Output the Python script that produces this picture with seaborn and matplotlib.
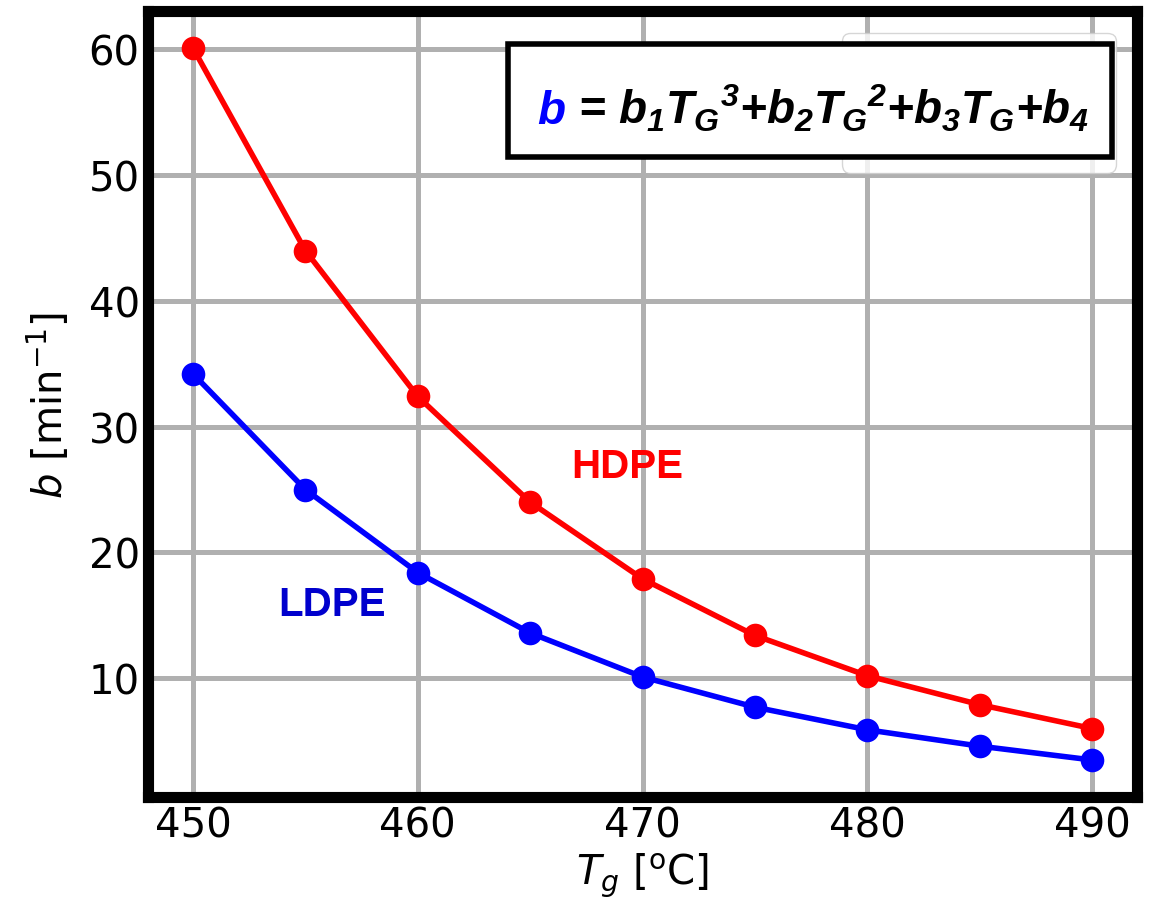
import matplotlib
matplotlib.use("Agg")
import matplotlib.pyplot as plt
import seaborn as sns
import pandas as pd
from matplotlib.patches import Rectangle

# Data
temps = [450, 455, 460, 465, 470, 475, 480, 485, 490]
hdpe_b = [60.1, 44.0, 32.4, 24.0, 17.9, 13.4, 10.2, 7.9, 6.0]
ldpe_b = [34.2, 25.0, 18.4, 13.6, 10.1, 7.7, 5.9, 4.6, 3.5]
materials = ["HDPE", "LDPE"]
x_ticks = [450, 460, 470, 480, 490]
y_ticks = [10, 20, 30, 40, 50, 60]

df = pd.DataFrame({
    "T": temps + temps,
    "b": hdpe_b + ldpe_b,
    "material": [materials[0]] * len(temps) + [materials[1]] * len(temps),
})

sns.set_style("white")
plt.rcParams["font.family"] = ["DejaVu Sans"]
plt.rcParams["text.color"] = "black"
plt.rcParams["axes.labelcolor"] = "black"
plt.rcParams["xtick.color"] = "black"
plt.rcParams["ytick.color"] = "black"
plt.rcParams["mathtext.fontset"] = "dejavusans"
plt.rcParams["mathtext.rm"] = "Liberation Sans:bold:italic"
plt.rcParams["mathtext.it"] = "Liberation Sans:bold:italic"
plt.rcParams["mathtext.bf"] = "Liberation Sans:bold:italic"
plt.rcParams["mathtext.sf"] = "Liberation Sans:bold:italic"

fig = plt.figure(figsize=(11.49, 9.04), dpi=100)
ax = fig.add_axes([0.1288, 0.1173, 0.8608, 0.8694])

palette = {"HDPE": "#ff0000", "LDPE": "#0000ff"}
sns.lineplot(data=df, x="T", y="b", hue="material", palette=palette, ax=ax,
             marker="o", markersize=17, markeredgewidth=0, linewidth=4,
             legend=False, zorder=3)

ax.set_xlim(448, 492)
ax.set_ylim(0.56, 63.04)
ax.set_xticks(x_ticks)
ax.set_yticks(y_ticks)
ax.grid(True, color="#b0b0b0", linewidth=3.6)
ax.set_axisbelow(True)
for s in ax.spines.values():
    s.set_linewidth(8)
    s.set_color("black")
ax.tick_params(axis="both", length=0, labelsize=29, pad=6)

ax.set_xlabel(r"$T_g$ [$^{\rm o}$C]", fontsize=29, labelpad=4)
ax.set_ylabel(r"$b$ [min$^{-1}$]", fontsize=29, labelpad=12)

# faint legend (its contents are hidden by the formula box)
leg = ax.legend(handles=ax.lines[:2], labels=materials, loc="upper right",
                fontsize=31, framealpha=0.8)
leg.set_zorder(5)
for t in leg.get_texts():
    t.set_visible(False)

# Formula box
ax.add_patch(Rectangle((0.364, 0.814), 0.611, 0.144, transform=ax.transAxes,
                       facecolor="white", edgecolor="black", linewidth=4,
                       zorder=6))
fkw = dict(fontsize=33, family="Liberation Sans", weight="bold", style="italic",
           math_fontfamily="custom")
tb = ax.text(0.394, 0.857, "b", color="#0000ff", transform=ax.transAxes,
             ha="left", va="baseline", zorder=7, **fkw)
ax.annotate(r" = $b_1{T_G}^3$+$b_2{T_G}^2$+$b_3T_G$+$b_4$", xy=(1, 0),
            xycoords=tb, ha="left", va="bottom", color="black", zorder=7,
            annotation_clip=False, **fkw)

# Series labels
ax.text(469.3, 26.9, "HDPE", color="#ff0000", fontsize=29, weight="bold",
        family="Liberation Sans", ha="center", va="center", zorder=4)
ax.text(456.2, 15.9, "LDPE", color="#0000cd", fontsize=29, weight="bold",
        family="Liberation Sans", ha="center", va="center", zorder=4)

fig.savefig("out.png", dpi=100)
